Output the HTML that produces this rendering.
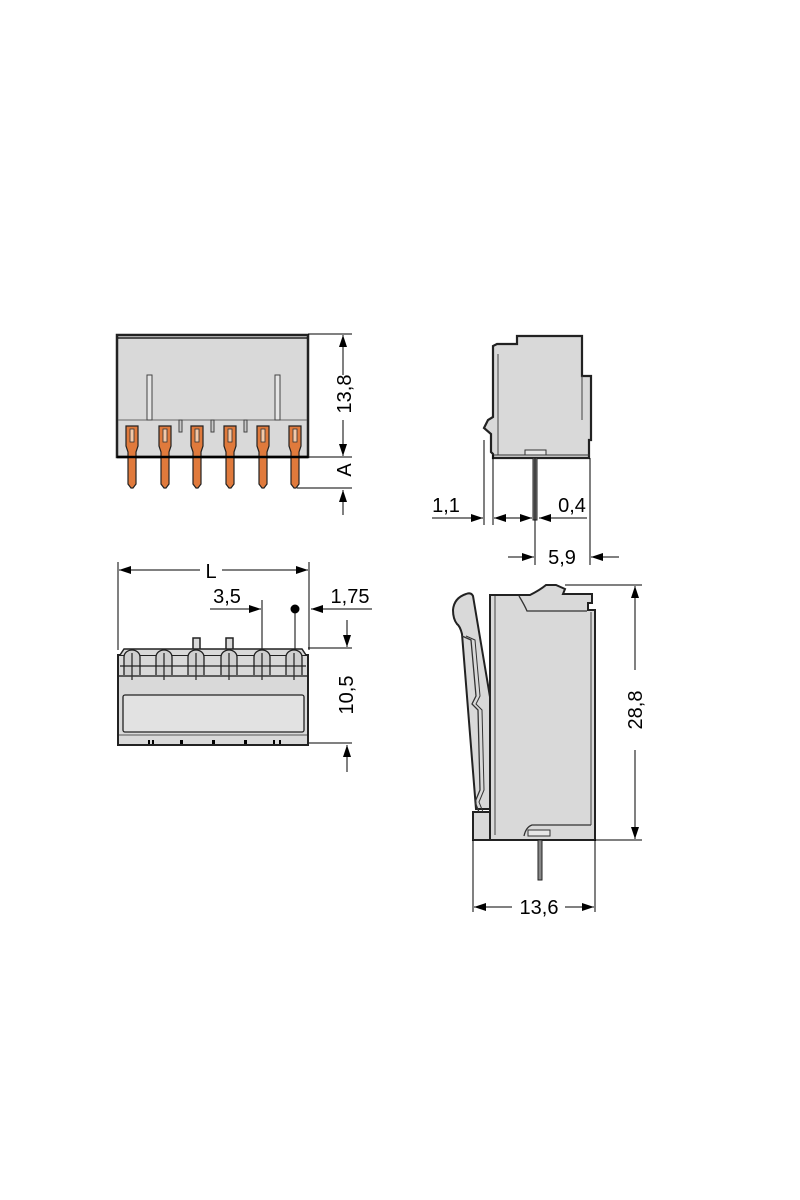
<!DOCTYPE html>
<html><head><meta charset="utf-8"><style>
html,body{margin:0;padding:0;background:#fff;}
svg{display:block;}
text{font-family:"Liberation Sans",sans-serif;font-size:20px;fill:#000;}
</style></head><body>
<svg width="800" height="1200" viewBox="0 0 800 1200" xmlns="http://www.w3.org/2000/svg">
<defs>
<marker id="ar" viewBox="0 0 12 8" refX="12" refY="4" markerWidth="12" markerHeight="8" markerUnits="userSpaceOnUse" orient="auto"><path d="M0,0 L12,4 L0,8 z" fill="#000"/></marker>
</defs>
<g stroke="#000" fill="none" stroke-width="1">
<!-- ===== View 1 ===== -->
<rect x="117" y="335" width="191" height="122" fill="#d9d9d9" stroke="#222" stroke-width="2.5"/>
<line x1="118" y1="338" x2="307" y2="338" stroke-width="1.2"/>
<line x1="118" y1="420" x2="307" y2="420" stroke="#666"/>
<rect x="147" y="375" width="5" height="45" fill="#e6e6e6" stroke="#444"/>
<rect x="275" y="375" width="5" height="45" fill="#e6e6e6" stroke="#444"/>
<g fill="#c9c9c9" stroke="#444">
<rect x="179" y="420" width="3" height="12"/><rect x="211" y="420" width="3" height="12"/><rect x="244" y="420" width="3" height="12"/>
</g>
<g fill="#e07a3c" stroke="#222" stroke-width="1.2">
<path d="M126,426 h12 v20 l-2,6 v32 l-3,4 h-2 l-3,-4 v-32 l-2,-6 z"/>
<path d="M159,426 h12 v20 l-2,6 v32 l-3,4 h-2 l-3,-4 v-32 l-2,-6 z"/>
<path d="M191,426 h12 v20 l-2,6 v32 l-3,4 h-2 l-3,-4 v-32 l-2,-6 z"/>
<path d="M224,426 h12 v20 l-2,6 v32 l-3,4 h-2 l-3,-4 v-32 l-2,-6 z"/>
<path d="M257,426 h12 v20 l-2,6 v32 l-3,4 h-2 l-3,-4 v-32 l-2,-6 z"/>
<path d="M289,426 h12 v20 l-2,6 v32 l-3,4 h-2 l-3,-4 v-32 l-2,-6 z"/>
</g>
<g fill="#f3c9a8" stroke="#333" stroke-width="0.8">
<rect x="130" y="429" width="4" height="13"/><rect x="163" y="429" width="4" height="13"/><rect x="195" y="429" width="4" height="13"/>
<rect x="228" y="429" width="4" height="13"/><rect x="261" y="429" width="4" height="13"/><rect x="293" y="429" width="4" height="13"/>
</g>
<line x1="117" y1="457" x2="308" y2="457" stroke-width="2.5"/>
<line x1="308" y1="334" x2="352" y2="334"/>
<line x1="308" y1="457" x2="352" y2="457"/>
<line x1="297" y1="488" x2="352" y2="488"/>
<line x1="343" y1="375" x2="343" y2="335" marker-end="url(#ar)"/>
<line x1="343" y1="420" x2="343" y2="456" marker-end="url(#ar)"/>
<line x1="343" y1="515" x2="343" y2="490" marker-end="url(#ar)"/>

<!-- ===== View 2 ===== -->
<line x1="118" y1="562" x2="118" y2="650"/>
<line x1="309" y1="562" x2="309" y2="650"/>
<line x1="200" y1="570" x2="119" y2="570" marker-end="url(#ar)"/>
<line x1="222" y1="570" x2="308" y2="570" marker-end="url(#ar)"/>
<line x1="210" y1="609" x2="261" y2="609" marker-end="url(#ar)"/>
<line x1="262" y1="600" x2="262" y2="650"/>
<line x1="295" y1="608" x2="295" y2="650"/>
<circle cx="295" cy="609" r="4" fill="#000"/>
<line x1="372" y1="609" x2="311" y2="609" marker-end="url(#ar)"/>
<line x1="308" y1="648" x2="352" y2="648"/>
<line x1="347" y1="620" x2="347" y2="647" marker-end="url(#ar)"/>
<line x1="308" y1="743" x2="352" y2="743"/>
<line x1="347" y1="772" x2="347" y2="745" marker-end="url(#ar)"/>
<rect x="118" y="655" width="190" height="90" fill="#d9d9d9" stroke="#222" stroke-width="2"/>
<rect x="193" y="638" width="7" height="12" fill="#d9d9d9" stroke="#222" stroke-width="1.5"/>
<rect x="226" y="638" width="7" height="12" fill="#d9d9d9" stroke="#222" stroke-width="1.5"/>
<path d="M120,655 l4,-6 h178 l4,6" fill="#d9d9d9" stroke="#222" stroke-width="1.5"/>
<g stroke="#222" stroke-width="1.3" fill="#cfcfcf">
<path d="M124,675 v-18 a8,7 0 0 1 16,0 v18"/><path d="M156,675 v-18 a8,7 0 0 1 16,0 v18"/>
<path d="M188,675 v-18 a8,7 0 0 1 16,0 v18"/><path d="M221,675 v-18 a8,7 0 0 1 16,0 v18"/>
<path d="M254,675 v-18 a8,7 0 0 1 16,0 v18"/><path d="M286,675 v-18 a8,7 0 0 1 16,0 v18"/>
</g>
<g stroke="#222" stroke-width="1.2">
<line x1="132" y1="653" x2="132" y2="680"/><line x1="164" y1="653" x2="164" y2="680"/>
<line x1="196" y1="653" x2="196" y2="680"/><line x1="229" y1="653" x2="229" y2="680"/>
<line x1="262" y1="653" x2="262" y2="680"/><line x1="294" y1="653" x2="294" y2="680"/>
<line x1="120" y1="666" x2="306" y2="666"/>
</g>
<line x1="119" y1="676" x2="307" y2="676" stroke="#333" stroke-width="1.5"/>
<rect x="123" y="695" width="181" height="37" rx="2" fill="#e2e2e2" stroke="#222" stroke-width="1.3"/>
<line x1="119" y1="735" x2="307" y2="735" stroke="#555"/>
<g fill="#000" stroke="none">
<rect x="148" y="740" width="2" height="4"/><rect x="152" y="740" width="2" height="4"/>
<rect x="180" y="740" width="3" height="4"/><rect x="212" y="740" width="3" height="4"/>
<rect x="244" y="740" width="3" height="4"/><rect x="273" y="740" width="2" height="4"/><rect x="279" y="740" width="2" height="4"/>
</g>

<!-- ===== View 3 ===== -->
<path d="M517,336 h65 v40 h9 v64 h-2 v18 h-96 v-4 l-2,-2 v-18 l-7,-6 l4,-8 l5,-3 v-71 l4,-2 h20 z" fill="#d9d9d9" stroke="#222" stroke-width="2.2"/>
<line x1="498" y1="354" x2="498" y2="455" stroke="#444"/>
<line x1="582" y1="376" x2="582" y2="420" stroke="#444"/>
<line x1="494" y1="455" x2="590" y2="455" stroke="#333"/>
<rect x="525" y="450" width="21" height="5" fill="#e6e6e6" stroke="#333"/>
<rect x="533" y="458" width="4" height="62" fill="#888" stroke="#222"/>
<line x1="484" y1="440" x2="484" y2="525"/>
<line x1="493" y1="455" x2="493" y2="525"/>
<line x1="535" y1="458" x2="535" y2="565"/>
<line x1="590" y1="458" x2="590" y2="565"/>
<line x1="432" y1="518" x2="483" y2="518" marker-end="url(#ar)"/>
<line x1="520" y1="518" x2="494" y2="518" marker-end="url(#ar)"/>
<line x1="518" y1="518" x2="532" y2="518" marker-end="url(#ar)"/>
<line x1="587" y1="518" x2="539" y2="518" marker-end="url(#ar)"/>
<line x1="508" y1="557" x2="534" y2="557" marker-end="url(#ar)"/>
<line x1="619" y1="557" x2="591" y2="557" marker-end="url(#ar)"/>

<!-- ===== View 4 ===== -->
<path d="M490,595 H530 Q540,590 546,585 L556,585 L565,589 L563,594 H592 V603 H588 V610 H595 V840 H490 Z" fill="#d9d9d9" stroke="#222" stroke-width="2"/>
<path d="M519,596 q6,10 8,15 h60" stroke="#333" stroke-width="1.3"/>
<path d="M591,825 h-59 q-6,2 -8,11" stroke="#333" stroke-width="1.3"/>
<line x1="495" y1="596" x2="495" y2="835" stroke="#444"/>
<line x1="591" y1="612" x2="591" y2="825" stroke="#444"/>
<rect x="528" y="830" width="22" height="6" fill="#e6e6e6" stroke="#333"/>
<path d="M473,812 h17 v28 h-17 z" fill="#d9d9d9" stroke="#222" stroke-width="2"/>
<path d="M466,594 q5,-2 7,2 l17,101 v112 h-14 l-14,-175 q-2,-8 -5,-10 q-4,-5 -4,-14 q1,-12 13,-16 z" fill="#d9d9d9" stroke="#222" stroke-width="2"/>
<path d="M462,636 l9,4 l5,56 l-4,8 l6,6 l2,80 l-5,12 l4,10" stroke="#333" stroke-width="1.3"/>
<path d="M466,636 l9,4 l5,56 l-4,8 l6,6 l2,80 l-5,12 l4,10" stroke="#333" stroke-width="1"/>
<rect x="538" y="840" width="4" height="40" fill="#888" stroke="#222"/>
<line x1="565" y1="585" x2="642" y2="585"/>
<line x1="595" y1="840" x2="642" y2="840"/>
<line x1="635" y1="670" x2="635" y2="586" marker-end="url(#ar)"/>
<line x1="635" y1="750" x2="635" y2="839" marker-end="url(#ar)"/>
<line x1="473" y1="840" x2="473" y2="912"/>
<line x1="595" y1="840" x2="595" y2="912"/>
<line x1="512" y1="907" x2="474" y2="907" marker-end="url(#ar)"/>
<line x1="565" y1="907" x2="594" y2="907" marker-end="url(#ar)"/>
</g>

<text transform="translate(351,394) rotate(-90)" text-anchor="middle">13,8</text>
<text transform="translate(351,470) rotate(-90)" text-anchor="middle">A</text>
<text x="211" y="578" text-anchor="middle">L</text>
<text x="227" y="603" text-anchor="middle">3,5</text>
<text x="350" y="603" text-anchor="middle">1,75</text>
<text transform="translate(353,695) rotate(-90)" text-anchor="middle">10,5</text>
<text x="446" y="512" text-anchor="middle">1,1</text>
<text x="572" y="512" text-anchor="middle">0,4</text>
<text x="562" y="564" text-anchor="middle">5,9</text>
<text transform="translate(642,710) rotate(-90)" text-anchor="middle">28,8</text>
<text x="539" y="914" text-anchor="middle">13,6</text>
</svg>
</body></html>
